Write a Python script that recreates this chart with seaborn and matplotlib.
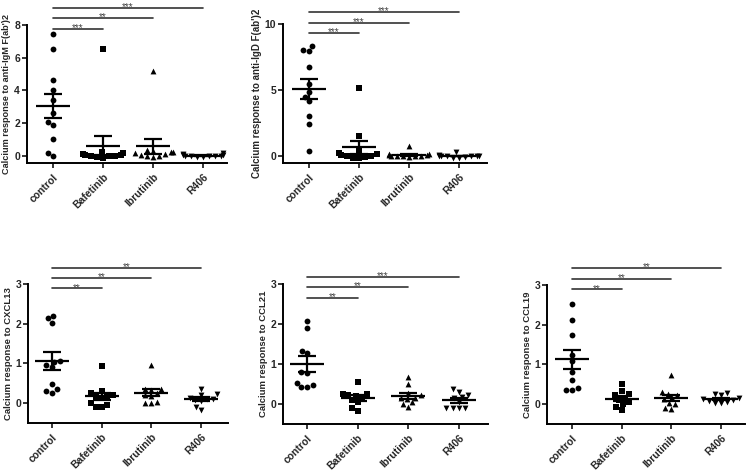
import numpy as np
import pandas as pd
import seaborn as sns
import matplotlib
matplotlib.use('Agg')
from matplotlib import pyplot as plt

sns.set_style('ticks')
plt.rcParams['font.family'] = ['Liberation Sans', 'DejaVu Sans']
plt.rcParams['font.weight'] = 'bold'

groups = ['control', 'Bafetinib', 'Ibrutinib', 'R406']
markers = ['o', 's', '^', 'v']

# values
igm_control = [7.43, 6.54, 4.64, 4.03, 3.42, 2.61, 2.04, 1.85, 1.02, 0.16, 0.0]
igm_bafetinib = [6.5, 0.2, 0.15, 0.1, 0.05, 0.0, 0.0, -0.05, -0.1, -0.15, 0.05]
igm_ibrutinib = [5.19, 0.35, 0.3, 0.2, 0.15, 0.1, 0.05, 0.0, -0.05, -0.1, 0.2]
igm_r406 = [0.15, 0.1, 0.05, 0.0, -0.05, -0.1, 0.0, -0.05, 0.05, -0.1, 0.0]

igd_control = [8.01, 7.93, 8.31, 6.75, 5.47, 4.84, 4.46, 4.16, 3.07, 2.47, 0.43]
igd_bafetinib = [5.16, 1.56, 0.4, 0.25, 0.2, 0.1, 0.05, 0.0, -0.05, -0.1, -0.1]
igd_ibrutinib = [0.76, 0.2, 0.15, 0.1, 0.05, 0.05, 0.0, 0.0, -0.05, 0.1, 0.05]
igd_r406 = [0.3, 0.1, 0.05, 0.05, 0.0, 0.0, -0.05, -0.1, -0.1, 0.05, 0.0]

cxcl13_control = [2.2, 2.14, 2.03, 1.06, 1.04, 0.95, 0.9, 0.47, 0.35, 0.31, 0.26]
cxcl13_bafetinib = [0.94, 0.3, 0.25, 0.2, 0.18, 0.15, 0.12, 0.0, -0.05, -0.1, -0.1]
cxcl13_ibrutinib = [0.97, 0.36, 0.35, 0.33, 0.25, 0.2, 0.18, 0.02, 0.0, 0.0]
cxcl13_r406 = [0.35, 0.22, 0.2, 0.14, 0.1, 0.1, 0.08, 0.05, -0.1, -0.18]

ccl21_control = [2.08, 1.89, 1.33, 1.27, 0.81, 0.78, 0.53, 0.47, 0.43, 0.43]
ccl21_bafetinib = [0.55, 0.26, 0.24, 0.22, 0.2, 0.15, 0.1, 0.05, -0.1, -0.17]
ccl21_ibrutinib = [0.68, 0.49, 0.27, 0.22, 0.16, 0.14, 0.12, 0.04, 0.0, -0.08]
ccl21_r406 = [0.37, 0.3, 0.22, 0.18, 0.14, 0.06, -0.09, -0.09, -0.09, -0.09]

ccl19_control = [2.52, 2.13, 1.75, 1.23, 1.08, 0.82, 0.6, 0.4, 0.36, 0.36]
ccl19_bafetinib = [0.5, 0.32, 0.26, 0.22, 0.15, 0.1, 0.05, 0.0, -0.08, -0.14]
ccl19_ibrutinib = [0.73, 0.3, 0.26, 0.22, 0.15, 0.12, 0.02, 0.0, -0.1, -0.12]
ccl19_r406 = [0.28, 0.25, 0.22, 0.15, 0.12, 0.1, 0.08, 0.05, 0.03, 0.02]

ylabels = ["Calcium response to anti-IgM F(ab')2", "Calcium response to anti-IgD F(ab')2",
           'Calcium response to CXCL13', 'Calcium response to CCL21', 'Calcium response to CCL19']
stars = [['***', '**', '***'], ['***', '***', '***'], ['**', '**', '**'],
         ['**', '**', '***'], ['**', '**', '**']]
bar_heights = [[7.77, 8.41, 9.05], [9.31, 10.1, 10.9], [2.89, 3.16, 3.41],
               [2.66, 2.92, 3.18], [2.89, 3.15, 3.42]]
yticks = [[0, 2, 4, 6, 8], [0, 5, 10], [0, 1, 2, 3], [0, 1, 2, 3], [0, 1, 2, 3]]
ylims = [(-0.45, 8), (-0.5, 10), (-0.5, 3), (-0.5, 3), (-0.5, 3)]

panels = [
    [igm_control, igm_bafetinib, igm_ibrutinib, igm_r406],
    [igd_control, igd_bafetinib, igd_ibrutinib, igd_r406],
    [cxcl13_control, cxcl13_bafetinib, cxcl13_ibrutinib, cxcl13_r406],
    [ccl21_control, ccl21_bafetinib, ccl21_ibrutinib, ccl21_r406],
    [ccl19_control, ccl19_bafetinib, ccl19_ibrutinib, ccl19_r406],
]

# axes boxes in pixels: left, top, right, bottom
W, H = 746, 472
boxes = [(27, 25, 227, 163), (283, 24, 487, 163), (28, 284, 228, 423),
         (283, 284, 488, 424), (547, 285, 745, 424)]
xlims = [(-0.52, 3.48), (-0.52, 3.56), (-0.48, 3.54), (-0.48, 3.58), (-0.5, 3.48)]
label_sizes = [6.6, 7.0, 6.8, 6.8, 6.8]

fig = plt.figure(figsize=(W / 100, H / 100), dpi=100)

for i, vals in enumerate(panels):
    l, t, r, b = boxes[i]
    ax = fig.add_axes([l / W, 1 - b / H, (r - l) / W, (b - t) / H])

    df = pd.DataFrame({'group': np.repeat(groups, [len(v) for v in vals]),
                       'value': np.concatenate(vals)})
    for g, m in zip(groups, markers):
        sns.swarmplot(data=df[df['group'] == g], x='group', y='value', order=groups,
                      marker=m, color='black', size=4.2, linewidth=0, ax=ax, warn_thresh=1)

    # mean and SEM
    for j, v in enumerate(vals):
        v = np.array(v)
        mean = v.mean()
        sem = v.std(ddof=1) / np.sqrt(len(v))
        ax.hlines(mean, j - 0.34, j + 0.34, color='black', lw=1.6, zorder=5)
        ax.hlines([mean - sem, mean + sem], j - 0.18, j + 0.18, color='black', lw=1.6, zorder=5)
        ax.vlines(j, mean - sem, mean + sem, color='black', lw=1.6, zorder=5)

    # significance bars
    for k in range(3):
        yb = bar_heights[i][k]
        ax.plot([0, k + 1], [yb, yb], color='#333333', lw=1.2, clip_on=False)
        ax.annotate(stars[i][k], xy=((k + 1) / 2, yb), xytext=(0, -1.6), textcoords='offset points',
                    ha='center', va='baseline', fontsize=7, color='#444444', fontweight='normal',
                    annotation_clip=False)

    ax.set_xlim(*xlims[i])
    ax.set_ylim(*ylims[i])
    ax.set_yticks(yticks[i])
    ax.set_xlabel('')
    ax.set_ylabel(ylabels[i], fontsize=label_sizes[i], fontweight='bold', labelpad=2)
    ax.set_xticks(range(4))
    ax.set_xticklabels(groups, rotation=45, ha='right', rotation_mode='anchor', fontsize=7.5,
                       fontweight='bold')
    ax.tick_params(axis='y', labelsize=7.5, width=1.3, length=3.5, pad=1.5)
    ax.tick_params(axis='x', width=1.3, length=3.5, pad=3)
    for s in ['left', 'bottom']:
        ax.spines[s].set_linewidth(1.4)
        ax.spines[s].set_color('black')
    sns.despine(ax=ax)

fig.savefig('out.png', dpi=100)
